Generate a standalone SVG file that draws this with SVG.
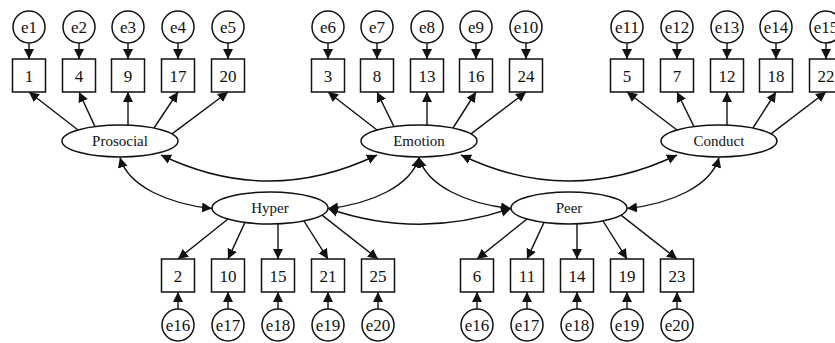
<svg xmlns="http://www.w3.org/2000/svg" width="835" height="343" viewBox="0 0 835 343">
  <defs>
    <marker id="ah" viewBox="0 0 10 10" refX="10" refY="5" markerWidth="10" markerHeight="11" markerUnits="userSpaceOnUse" orient="auto-start-reverse">
      <path d="M0,0 L10,5 L0,10 Z" fill="#111"/>
    </marker>
    <style>
      rect, circle, ellipse { fill: #fff; stroke: #111; stroke-width: 1.5; }
      text { font-family: "Liberation Serif", "Times New Roman", serif; fill: #111; text-anchor: middle; }
      .obs text, .err text { font-size: 17px; }
      .lat text { font-size: 15px; }
      #connectors path { fill: none; stroke: #111; stroke-width: 1.4; }
      .one { marker-end: url(#ah); }
      .two { marker-start: url(#ah); marker-end: url(#ah); }
    </style>
  </defs>

  <!-- connectors -->
  <g id="connectors">
    <!-- error terms to items, top row -->
    <path class="one" d="M29,43 V59"/><path class="one" d="M79,43 V59"/><path class="one" d="M128,43 V59"/><path class="one" d="M178,43 V59"/><path class="one" d="M228,43 V59"/>
    <path class="one" d="M328,43 V59"/><path class="one" d="M377,43 V59"/><path class="one" d="M427,43 V59"/><path class="one" d="M476,43 V59"/><path class="one" d="M526,43 V59"/>
    <path class="one" d="M627,43 V59"/><path class="one" d="M677,43 V59"/><path class="one" d="M727,43 V59"/><path class="one" d="M776,43 V59"/><path class="one" d="M826,43 V59"/>
    <!-- error terms to items, bottom row -->
    <path class="one" d="M178,309 V292"/><path class="one" d="M228,309 V292"/><path class="one" d="M278,309 V292"/><path class="one" d="M328,309 V292"/><path class="one" d="M378,309 V292"/>
    <path class="one" d="M477,309 V292"/><path class="one" d="M527,309 V292"/><path class="one" d="M577,309 V292"/><path class="one" d="M627,309 V292"/><path class="one" d="M677,309 V292"/>

    <!-- loadings: Prosocial -->
    <path class="one" d="M78,130 L29,92"/>
    <path class="one" d="M95,126.6 L79,92"/>
    <path class="one" d="M128,125.2 L128,92"/>
    <path class="one" d="M154,128 L178,92"/>
    <path class="one" d="M172,133.9 L228,92"/>
    <!-- loadings: Emotion -->
    <path class="one" d="M377,130 L328,92"/>
    <path class="one" d="M394,126.6 L377,92"/>
    <path class="one" d="M427,125.2 L427,92"/>
    <path class="one" d="M453,128 L476,92"/>
    <path class="one" d="M471,133.9 L526,92"/>
    <!-- loadings: Conduct -->
    <path class="one" d="M677,130 L627,92"/>
    <path class="one" d="M694,126.6 L677,92"/>
    <path class="one" d="M727,125.2 L727,92"/>
    <path class="one" d="M753,128 L776,92"/>
    <path class="one" d="M771,133.9 L826,92"/>
    <!-- loadings: Hyper -->
    <path class="one" d="M228,219 L178,259"/>
    <path class="one" d="M245,222.4 L228,259"/>
    <path class="one" d="M278,223.8 L278,259"/>
    <path class="one" d="M304,221 L328,259"/>
    <path class="one" d="M322,215.1 L378,259"/>
    <!-- loadings: Peer -->
    <path class="one" d="M527,219 L477,259"/>
    <path class="one" d="M544,222.4 L527,259"/>
    <path class="one" d="M577,223.8 L577,259"/>
    <path class="one" d="M603,221 L627,259"/>
    <path class="one" d="M621,215.1 L677,259"/>

    <!-- covariances -->
    <path class="two" d="M161,155 Q269,207 377,155"/>
    <path class="two" d="M461,155 Q569,207 677,155"/>
    <path class="two" d="M120,157.5 C128,186 168,204 212,208.5"/>
    <path class="two" d="M419,157.5 C411,186 371,204 328,208.5"/>
    <path class="two" d="M419,157.5 C427,186 467,204 511,208.5"/>
    <path class="two" d="M719,157.5 C711,186 671,204 627,208.5"/>
    <path class="two" d="M328,208.5 Q419,240 511,208.5"/>
  </g>

  <!-- latent factors -->
  <g id="Prosocial" class="lat"><ellipse cx="120" cy="141" rx="58" ry="16"/><text x="120" y="146">Prosocial</text></g>
  <g id="Emotion" class="lat"><ellipse cx="419" cy="141" rx="58" ry="16"/><text x="419" y="146">Emotion</text></g>
  <g id="Conduct" class="lat"><ellipse cx="719" cy="141" rx="58" ry="16"/><text x="719" y="146">Conduct</text></g>
  <g id="Hyper" class="lat"><ellipse cx="270" cy="208" rx="58" ry="16"/><text x="270" y="213">Hyper</text></g>
  <g id="Peer" class="lat"><ellipse cx="569" cy="208" rx="58" ry="16"/><text x="569" y="213">Peer</text></g>

  <!-- observed items, top row -->
  <g id="item1" class="obs"><rect x="12.5" y="59" width="33" height="33"/><text x="29" y="82">1</text></g>
  <g id="item4" class="obs"><rect x="62.5" y="59" width="33" height="33"/><text x="79" y="82">4</text></g>
  <g id="item9" class="obs"><rect x="111.5" y="59" width="33" height="33"/><text x="128" y="82">9</text></g>
  <g id="item17" class="obs"><rect x="161.5" y="59" width="33" height="33"/><text x="178" y="82">17</text></g>
  <g id="item20" class="obs"><rect x="211.5" y="59" width="33" height="33"/><text x="228" y="82">20</text></g>
  <g id="item3" class="obs"><rect x="311.5" y="59" width="33" height="33"/><text x="328" y="82">3</text></g>
  <g id="item8" class="obs"><rect x="360.5" y="59" width="33" height="33"/><text x="377" y="82">8</text></g>
  <g id="item13" class="obs"><rect x="410.5" y="59" width="33" height="33"/><text x="427" y="82">13</text></g>
  <g id="item16" class="obs"><rect x="459.5" y="59" width="33" height="33"/><text x="476" y="82">16</text></g>
  <g id="item24" class="obs"><rect x="509.5" y="59" width="33" height="33"/><text x="526" y="82">24</text></g>
  <g id="item5" class="obs"><rect x="610.5" y="59" width="33" height="33"/><text x="627" y="82">5</text></g>
  <g id="item7" class="obs"><rect x="660.5" y="59" width="33" height="33"/><text x="677" y="82">7</text></g>
  <g id="item12" class="obs"><rect x="710.5" y="59" width="33" height="33"/><text x="727" y="82">12</text></g>
  <g id="item18" class="obs"><rect x="759.5" y="59" width="33" height="33"/><text x="776" y="82">18</text></g>
  <g id="item22" class="obs"><rect x="809.5" y="59" width="33" height="33"/><text x="826" y="82">22</text></g>

  <!-- observed items, bottom row -->
  <g id="item2" class="obs"><rect x="161.5" y="259" width="33" height="33"/><text x="178" y="282">2</text></g>
  <g id="item10" class="obs"><rect x="211.5" y="259" width="33" height="33"/><text x="228" y="282">10</text></g>
  <g id="item15" class="obs"><rect x="261.5" y="259" width="33" height="33"/><text x="278" y="282">15</text></g>
  <g id="item21" class="obs"><rect x="311.5" y="259" width="33" height="33"/><text x="328" y="282">21</text></g>
  <g id="item25" class="obs"><rect x="361.5" y="259" width="33" height="33"/><text x="378" y="282">25</text></g>
  <g id="item6" class="obs"><rect x="460.5" y="259" width="33" height="33"/><text x="477" y="282">6</text></g>
  <g id="item11" class="obs"><rect x="510.5" y="259" width="33" height="33"/><text x="527" y="282">11</text></g>
  <g id="item14" class="obs"><rect x="560.5" y="259" width="33" height="33"/><text x="577" y="282">14</text></g>
  <g id="item19" class="obs"><rect x="610.5" y="259" width="33" height="33"/><text x="627" y="282">19</text></g>
  <g id="item23" class="obs"><rect x="660.5" y="259" width="33" height="33"/><text x="677" y="282">23</text></g>

  <!-- error terms, top row -->
  <g id="e1" class="err"><circle cx="29" cy="27" r="16"/><text x="29" y="33">e1</text></g>
  <g id="e2" class="err"><circle cx="79" cy="27" r="16"/><text x="79" y="33">e2</text></g>
  <g id="e3" class="err"><circle cx="128" cy="27" r="16"/><text x="128" y="33">e3</text></g>
  <g id="e4" class="err"><circle cx="178" cy="27" r="16"/><text x="178" y="33">e4</text></g>
  <g id="e5" class="err"><circle cx="228" cy="27" r="16"/><text x="228" y="33">e5</text></g>
  <g id="e6" class="err"><circle cx="328" cy="27" r="16"/><text x="328" y="33">e6</text></g>
  <g id="e7" class="err"><circle cx="377" cy="27" r="16"/><text x="377" y="33">e7</text></g>
  <g id="e8" class="err"><circle cx="427" cy="27" r="16"/><text x="427" y="33">e8</text></g>
  <g id="e9" class="err"><circle cx="476" cy="27" r="16"/><text x="476" y="33">e9</text></g>
  <g id="e10" class="err"><circle cx="526" cy="27" r="16"/><text x="526" y="33">e10</text></g>
  <g id="e11" class="err"><circle cx="627" cy="27" r="16"/><text x="627" y="33">e11</text></g>
  <g id="e12" class="err"><circle cx="677" cy="27" r="16"/><text x="677" y="33">e12</text></g>
  <g id="e13" class="err"><circle cx="727" cy="27" r="16"/><text x="727" y="33">e13</text></g>
  <g id="e14" class="err"><circle cx="776" cy="27" r="16"/><text x="776" y="33">e14</text></g>
  <g id="e15" class="err"><circle cx="826" cy="27" r="16"/><text x="826" y="33">e15</text></g>

  <!-- error terms, bottom row -->
  <g id="e16-hyper" class="err"><circle cx="178" cy="325" r="16"/><text x="178" y="331">e16</text></g>
  <g id="e17-hyper" class="err"><circle cx="228" cy="325" r="16"/><text x="228" y="331">e17</text></g>
  <g id="e18-hyper" class="err"><circle cx="278" cy="325" r="16"/><text x="278" y="331">e18</text></g>
  <g id="e19-hyper" class="err"><circle cx="328" cy="325" r="16"/><text x="328" y="331">e19</text></g>
  <g id="e20-hyper" class="err"><circle cx="378" cy="325" r="16"/><text x="378" y="331">e20</text></g>
  <g id="e16-peer" class="err"><circle cx="477" cy="325" r="16"/><text x="477" y="331">e16</text></g>
  <g id="e17-peer" class="err"><circle cx="527" cy="325" r="16"/><text x="527" y="331">e17</text></g>
  <g id="e18-peer" class="err"><circle cx="577" cy="325" r="16"/><text x="577" y="331">e18</text></g>
  <g id="e19-peer" class="err"><circle cx="627" cy="325" r="16"/><text x="627" y="331">e19</text></g>
  <g id="e20-peer" class="err"><circle cx="677" cy="325" r="16"/><text x="677" y="331">e20</text></g>
</svg>
